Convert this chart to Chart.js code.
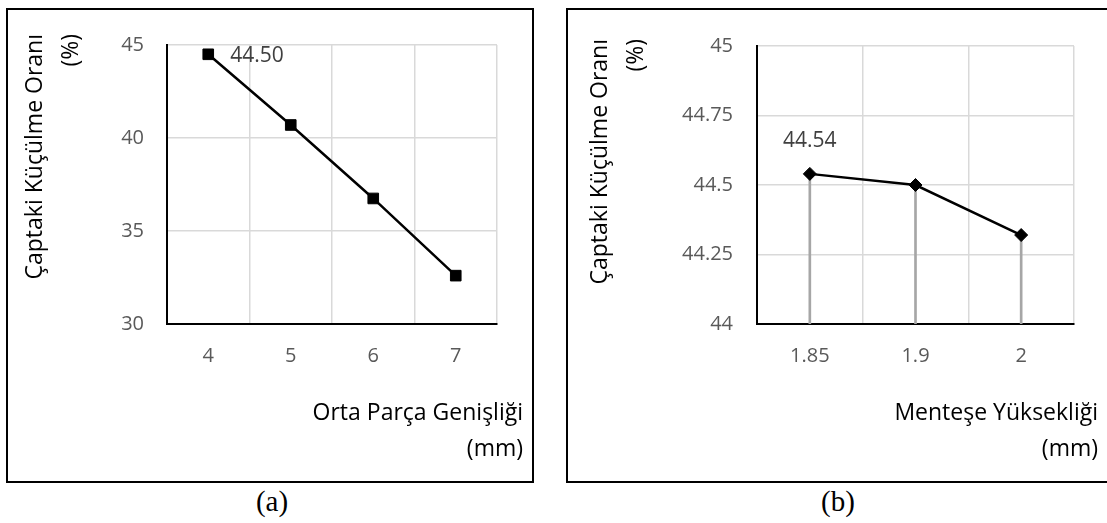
<!DOCTYPE html>
<html>
<head>
<meta charset="utf-8">
<script src="https://cdn.jsdelivr.net/npm/chart.js@4.4.1/dist/chart.umd.min.js"></script>
<style>
  html, body { margin: 0; padding: 0; background: #fff; }
  body { width: 1107px; height: 523px; position: relative; overflow: hidden; }
  .frame { position: absolute; box-sizing: border-box; border: 2px solid #000; }
  .plot { position: absolute; }
  .caption {
    position: absolute; top: 485px; width: 100px; text-align: center;
    font-family: "Liberation Serif", "Times New Roman", serif;
    font-size: 29px; line-height: 32px; color: #000;
  }
</style>
</head>
<body>
<div class="frame" style="left:6px;top:8px;width:528px;height:475px"></div>
<div class="frame" style="left:566px;top:8px;width:545px;height:475px"></div>
<div class="plot" style="left:8px;top:10px;width:523px;height:470px"><canvas id="chartA"></canvas></div>
<div class="plot" style="left:568px;top:10px;width:539px;height:470px"><canvas id="chartB"></canvas></div>
<div class="caption" style="left:222px">(a)</div>
<div class="caption" style="left:788px">(b)</div>

<script>
/* ------------------------------------------------------------
   Data
   ------------------------------------------------------------ */
// (a) Orta Parça Genişliği (mm)
const widthLabels = ['4', '5', '6', '7'];
const shrinkByWidth = [44.50, 40.7, 36.75, 32.6];
const widthValueLabels = ['44.50', '', '', ''];
const widthTicks = [30, 35, 40, 45];

// (b) Menteşe Yüksekliği (mm)
const hingeLabels = ['1.85', '1.9', '2'];
const shrinkByHinge = [44.54, 44.5, 44.32];
const hingeValueLabels = ['44.54', '', ''];
const hingeTicks = [44, 44.25, 44.5, 44.75, 45];

const yTitle = ['Çaptaki Küçülme Oranı', '(%)'];

/* ------------------------------------------------------------
   Shared styles
   ------------------------------------------------------------ */
const FONT = '"Open Sans", "Noto Sans", sans-serif';
const GRID = '#d9d9d9';
const TICK = '#595959';

/* ------------------------------------------------------------
   Small plugins: axis titles (Excel style) and one value label
   ------------------------------------------------------------ */
function axisTitles(cfg) {
    return {
        id: 'axisTitles',
        afterDraw(chart) {
            const { ctx, chartArea } = chart;
            ctx.save();
            ctx.fillStyle = '#000';
            ctx.font = `23px ${FONT}`;
            ctx.textBaseline = 'middle';
            ctx.textAlign = 'right';

            ctx.save();
            ctx.translate(chartArea.left + cfg.yDx, chartArea.top + cfg.yDy);
            ctx.rotate(-Math.PI / 2);
            cfg.y.forEach((t, i) => ctx.fillText(t, 0, i * cfg.gap));
            ctx.restore();

            cfg.x.forEach((t, i) => {
                ctx.fillText(t, chartArea.right + cfg.xDx, chartArea.bottom + cfg.xDy + i * cfg.gap);
            });
            ctx.restore();
        }
    };
}

function valueLabels(cfg) {
    return {
        id: 'valueLabels',
        afterDatasetsDraw(chart) {
            const meta = chart.getDatasetMeta(cfg.dataset);
            const { ctx } = chart;
            ctx.save();
            ctx.font = `21px ${FONT}`;
            ctx.fillStyle = '#404040';
            ctx.textAlign = cfg.align;
            ctx.textBaseline = 'middle';
            meta.data.forEach((pt, i) => {
                const t = cfg.labels[i];
                if (t) ctx.fillText(t, pt.x + cfg.dx, pt.y + cfg.dy);
            });
            ctx.restore();
        }
    };
}

function xScale(height) {
    return {
        offset: true,
        grid: { offset: true, color: GRID, lineWidth: 1.5, drawTicks: false },
        border: { color: '#000', width: 2 },
        ticks: { color: TICK, font: { family: FONT, size: 20 }, padding: 20 },
        afterFit: s => { s.height = height; }
    };
}

function yScale(ticks, width, padding) {
    return {
        min: ticks[0],
        max: ticks[ticks.length - 1],
        afterBuildTicks: s => { s.ticks = ticks.map(v => ({ value: v })); },
        grid: { color: GRID, lineWidth: 1.5, drawTicks: false },
        border: { color: '#000', width: 2 },
        ticks: { color: TICK, font: { family: FONT, size: 20 }, padding: padding, callback: v => String(v) },
        afterFit: s => { s.width = width; }
    };
}

/* ------------------------------------------------------------
   Chart (a)
   ------------------------------------------------------------ */
new Chart(document.getElementById('chartA'), {
    type: 'line',
    data: {
        labels: widthLabels,
        datasets: [{
            data: shrinkByWidth,
            borderColor: '#000',
            borderWidth: 2.5,
            tension: 0,
            pointStyle: 'rect',
            pointRadius: 7.5,
            pointBackgroundColor: '#000',
            pointBorderColor: '#000',
            pointBorderWidth: 1
        }]
    },
    options: {
        responsive: true,
        maintainAspectRatio: false,
        animation: false,
        layout: { padding: { left: 0, top: 33, right: 34, bottom: 0 } },
        plugins: { legend: { display: false }, tooltip: { enabled: false } },
        scales: { x: xScale(156), y: yScale(widthTicks, 159, 23) }
    },
    plugins: [
        axisTitles({ y: yTitle, x: ['Orta Parça Genişliği', '(mm)'], gap: 36, yDx: -132, yDy: -11, xDx: 26, xDy: 89 }),
        valueLabels({ dataset: 0, labels: widthValueLabels, align: 'left', dx: 22, dy: 2 })
    ]
});

/* ------------------------------------------------------------
   Chart (b) – line with drop lines (thin bars)
   ------------------------------------------------------------ */
new Chart(document.getElementById('chartB'), {
    type: 'bar',
    data: {
        labels: hingeLabels,
        datasets: [
            {
                type: 'line',
                data: shrinkByHinge,
                order: 1,
                borderColor: '#000',
                borderWidth: 2.5,
                tension: 0,
                pointStyle: 'rectRot',
                pointRadius: 6.5,
                pointBackgroundColor: '#000',
                pointBorderColor: '#000',
                pointBorderWidth: 1
            },
            {
                type: 'bar',
                data: shrinkByHinge,
                order: 2,
                backgroundColor: '#a6a6a6',
                barThickness: 2
            }
        ]
    },
    options: {
        responsive: true,
        maintainAspectRatio: false,
        animation: false,
        layout: { padding: { left: 0, top: 33, right: 33, bottom: 0 } },
        plugins: { legend: { display: false }, tooltip: { enabled: false } },
        scales: { x: xScale(156), y: yScale(hingeTicks, 189, 24) }
    },
    plugins: [
        axisTitles({ y: yTitle, x: ['Menteşe Yüksekliği', '(mm)'], gap: 36, yDx: -157, yDy: -7, xDx: 24, xDy: 89 }),
        valueLabels({ dataset: 0, labels: hingeValueLabels, align: 'center', dx: 0, dy: -33 })
    ]
});
</script>
</body>
</html>
